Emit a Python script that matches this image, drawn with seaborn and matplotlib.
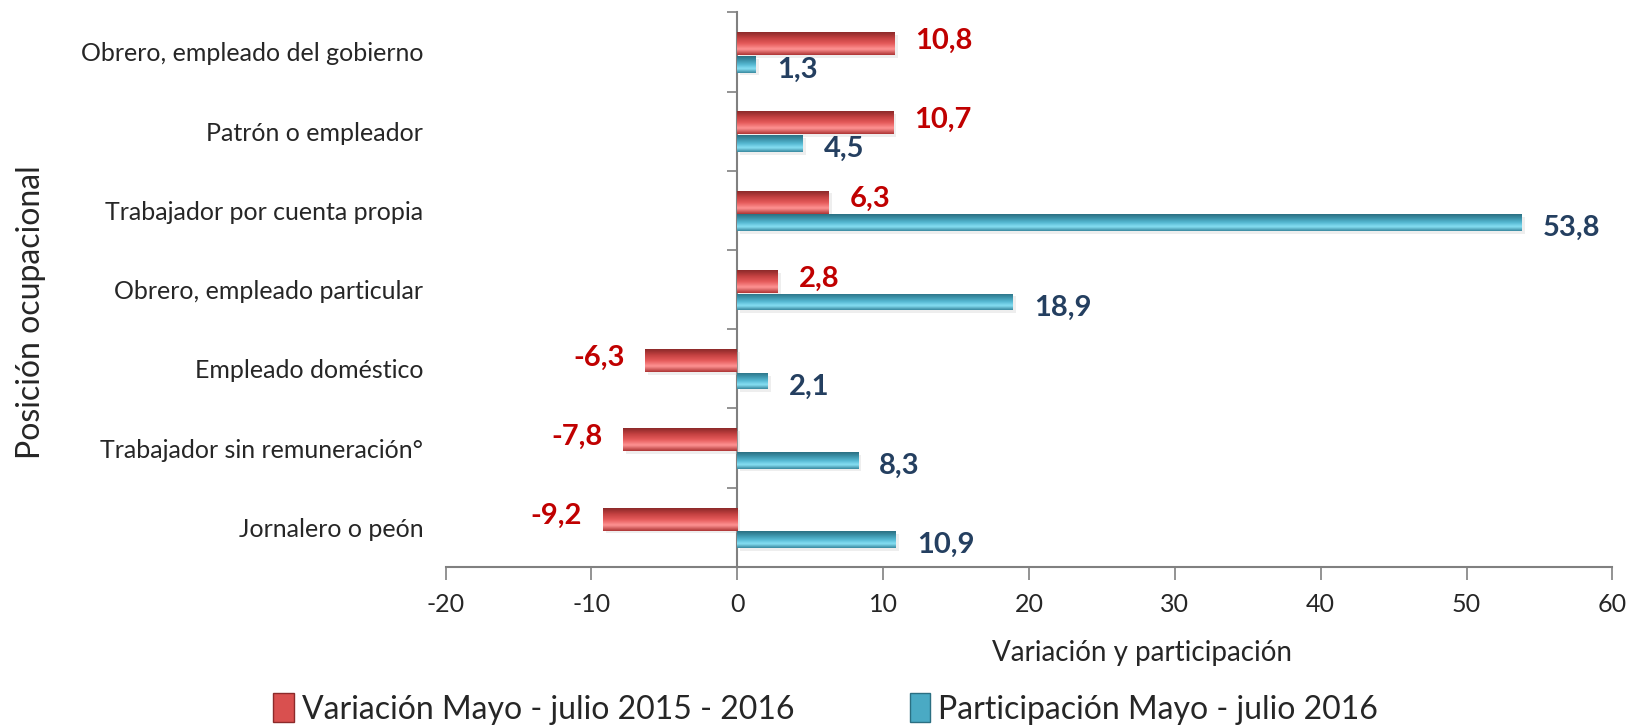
import numpy as np
import pandas as pd
import matplotlib
matplotlib.use("Agg")
import matplotlib.pyplot as plt
import seaborn as sns
from matplotlib.colors import LinearSegmentedColormap
from matplotlib.patches import Patch

categorias = ["Obrero, empleado del gobierno", "Patrón o empleador",
              "Trabajador por cuenta propia", "Obrero, empleado particular",
              "Empleado doméstico", "Trabajador sin remuneración°",
              "Jornalero o peón"]
variacion = [10.8, 10.7, 6.3, 2.8, -6.3, -7.8, -9.2]
participacion = [1.3, 4.5, 53.8, 18.9, 2.1, 8.3, 10.9]
series = ["Variación Mayo - julio 2015 - 2016", "Participación Mayo - julio 2016"]
xticks = [-20, -10, 0, 10, 20, 30, 40, 50, 60]

sns.set_theme(style="white")
plt.rcParams["font.family"] = ["Lato", "DejaVu Sans"]

df = pd.DataFrame({
    "cat": categorias * 2,
    "valor": variacion + participacion,
    "serie": [series[0]] * len(categorias) + [series[1]] * len(categorias),
})

fig = plt.figure(figsize=(16.32, 7.25), dpi=100)
ax = fig.add_axes([0.273, 0.218, 0.715, 0.765])

red_c, blue_c = "#d9504f", "#4aaac4"
sns.barplot(data=df, y="cat", x="valor", hue="serie", orient="h", dodge=True,
            palette=[red_c, blue_c], width=0.5, ax=ax, legend=False,
            errorbar=None, saturation=1)

red_cmap = LinearSegmentedColormap.from_list("r", ["#8c2a2a", "#c24040", "#e55a5a", "#ff9494", "#ad3434"])
blue_cmap = LinearSegmentedColormap.from_list("b", ["#2b6f82", "#3c93aa", "#55b8d2", "#88e0f4", "#37879d"])

n = len(categorias)
patches = list(ax.patches)
red_p = patches[:n]
blue_p = patches[n:]
grad = np.linspace(0, 1, 64).reshape(-1, 1)
for group, off, h, cmap in [(red_p, -0.105, 0.29, red_cmap), (blue_p, 0.155, 0.21, blue_cmap)]:
    for i, p in enumerate(group):
        x0 = p.get_x(); w = p.get_width()
        yc = i + off
        p.set_y(yc - h / 2); p.set_height(h)
        p.set_facecolor("none"); p.set_edgecolor("none")
        ax.add_patch(plt.Rectangle((x0 + 0.2, yc - h / 2 + 0.035), w, h,
                                   facecolor="#c8c8c8", alpha=0.3, edgecolor="none", zorder=1))
        im = ax.imshow(grad, cmap=cmap, aspect="auto", origin="upper",
                       extent=[min(x0, x0 + w), max(x0, x0 + w), yc + h / 2, yc - h / 2],
                       zorder=2, interpolation="bicubic")
        im.set_clip_path(p)

ax.set_xlim(-20, 60)
ax.set_ylim(n - 0.5, -0.5)
ax.set_xticks(xticks)
ax.set_xticklabels([str(t) for t in xticks], fontsize=18)
ax.set_yticks(range(n))
ax.set_yticklabels(categorias, fontsize=18)
ax.tick_params(axis="y", length=0, pad=16)
ax.tick_params(axis="x", length=9, width=1.2, color="#808080", direction="out", pad=10, bottom=True)

for s in ["top", "right", "left"]:
    ax.spines[s].set_visible(False)
ax.spines["bottom"].set_color("#808080")
ax.spines["bottom"].set_linewidth(1.5)

sec = ax.secondary_yaxis(0.25)
sec.set_yticks(np.arange(-0.5, n, 1.0))
sec.set_yticklabels([])
sec.tick_params(length=7, width=1.2, color="#808080", direction="out")
sec.spines["left"].set_color("#808080")
sec.spines["left"].set_linewidth(1.5)

for i, v in enumerate(variacion):
    ax.annotate(f"{v:.1f}".replace(".", ","), (v, i - 0.105),
                xytext=(15 if v >= 0 else -15, 2), textcoords="offset points",
                ha="left" if v >= 0 else "right", va="center",
                fontsize=21, fontweight="bold", color="#c00000", zorder=5)
for i, v in enumerate(participacion):
    ax.annotate(f"{v:.1f}".replace(".", ","), (v, i + 0.155),
                xytext=(15, -4), textcoords="offset points",
                ha="left", va="center",
                fontsize=21, fontweight="bold", color="#243f60", zorder=5)

ax.set_xlabel("")
ax.set_ylabel("")
fig.text(0.6999, 0.10, "Variación y participación", fontsize=20, ha="center", va="center")
fig.text(0.019, 0.57, "Posición ocupacional", rotation=90, fontsize=23,
         ha="center", va="center")

handles = [Patch(facecolor=red_c, edgecolor="#8c2a2a"), Patch(facecolor=blue_c, edgecolor="#2b6f82")]
fig.legend(handles, series, loc="center", bbox_to_anchor=(0.506, 0.022),
           ncol=2, frameon=False, fontsize=23, handlelength=0.65, handleheight=1.0,
           handletextpad=0.25, columnspacing=3.6, borderpad=0)

fig.savefig("out.png", dpi=100)
